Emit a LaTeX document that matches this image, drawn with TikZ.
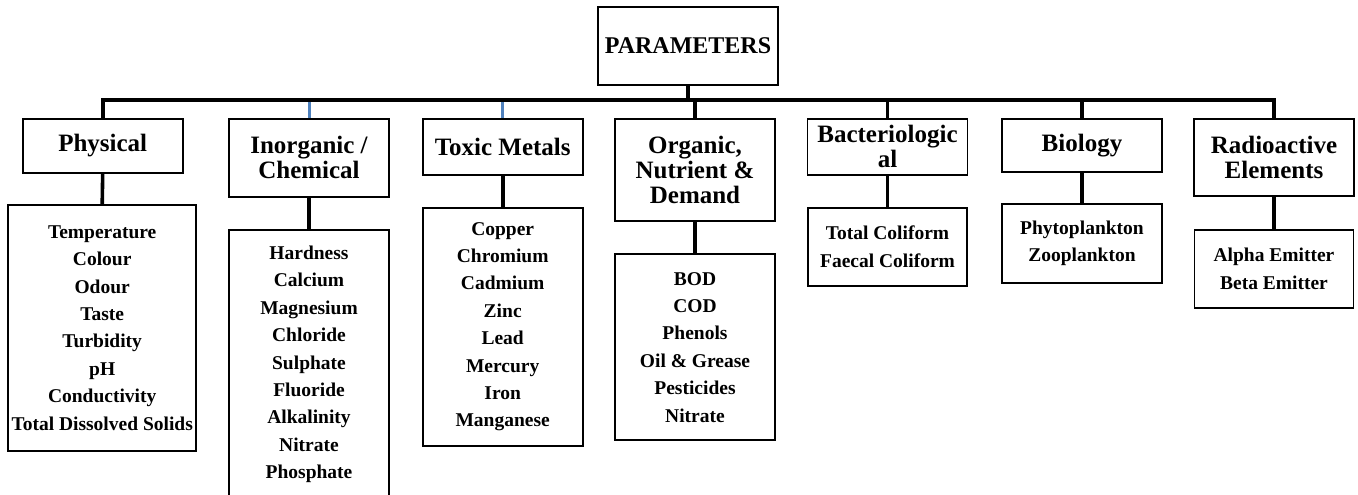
\documentclass[tikz,border=0pt]{standalone}
\usepackage{fontspec}
\setmainfont{Liberation Serif}
\newcommand{\topfont}{\bfseries\fontsize{24}{25}\selectfont}
\newcommand{\headfont}{\bfseries\fontsize{25}{25}\selectfont}
\newcommand{\listfont}{\bfseries\fontsize{19.5}{27.4}\selectfont}
\begin{document}
\begin{tikzpicture}[x=1pt,y=-1pt,
    headbox/.style={draw,line width=1.8pt,anchor=north,align=center,minimum width=160,font=\headfont,inner sep=2pt},
    listbox/.style={draw,line width=1.8pt,anchor=north,align=center,minimum width=160,font=\listfont,inner sep=2pt},
    link/.style={line width=3.6pt},
    stub/.style={line width=3pt,color=stubblue}]
  \definecolor{stubblue}{RGB}{79,129,189}
  \useasboundingbox (0,0) rectangle (1358,495);
  \clip (0,0) rectangle (1358,495);
  \fill[white] (0,0) rectangle (1358,495);
  \node[draw,line width=1.8pt,minimum width=180,minimum height=78,font=\topfont] (params) at (688,46) {PARAMETERS};
  \coordinate (bus) at (688,100);
  \node[headbox,minimum height=54] (phys) at (102.7,118) {Physical};
  \node[headbox,minimum height=78] (inorg) at (309,118) {Inorganic /\\Chemical};
  \node[headbox,minimum height=56] (tox) at (502.7,118) {Toxic Metals};
  \node[headbox,minimum height=102] (org) at (695,118) {Organic,\\Nutrient \&\\Demand};
  \node[headbox,minimum height=56,inner sep=1pt] (bact) at (887.5,118) {Bacteriologic\\al};
  \node[headbox,minimum height=53] (bio) at (1082,118) {Biology};
  \node[headbox,minimum height=77] (rad) at (1274,118) {Radioactive\\Elements};
  \node[listbox,minimum width=188,minimum height=246] (physlist) at (102.2,204)
    {Temperature\\Colour\\Odour\\Taste\\Turbidity\\pH\\Conductivity\\Total Dissolved Solids};
  \node[listbox,minimum height=269] (inorglist) at (309,229)
    {Hardness\\Calcium\\Magnesium\\Chloride\\Sulphate\\Fluoride\\Alkalinity\\Nitrate\\Phosphate};
  \node[listbox,minimum height=238.3] (toxlist) at (502.7,206.7)
    {Copper\\Chromium\\Cadmium\\Zinc\\Lead\\Mercury\\Iron\\Manganese};
  \node[listbox,minimum height=186] (orglist) at (695,253.3)
    {BOD\\COD\\Phenols\\Oil \& Grease\\Pesticides\\Nitrate};
  \node[listbox,minimum width=159,minimum height=78.6] (bactlist) at (887.5,206.7)
    {Total Coliform\\Faecal Coliform};
  \node[listbox,minimum height=78.7] (biolist) at (1082,203)
    {Phytoplankton\\Zooplankton};
  \node[listbox,minimum width=159,minimum height=77.4] (radlist) at (1274,229.3)
    {Alpha Emitter\\Beta Emitter};
  \draw[link] (params.south) -- (bus);
  \draw[link] (phys.north) |- (bus) -| (rad.north);
  \foreach \n in {org,bact,bio}
    \draw[link] (\n.north) -- (\n.north |- bus);
  \foreach \n in {inorg,tox}
    \draw[stub] (\n.north) -- ([yshift=-1.5pt]\n.north |- bus);
  \foreach \n in {phys,inorg,tox,org,bact,bio,rad}
    \draw[link] (\n.south) -- (\n list.north);
\end{tikzpicture}
\end{document}
